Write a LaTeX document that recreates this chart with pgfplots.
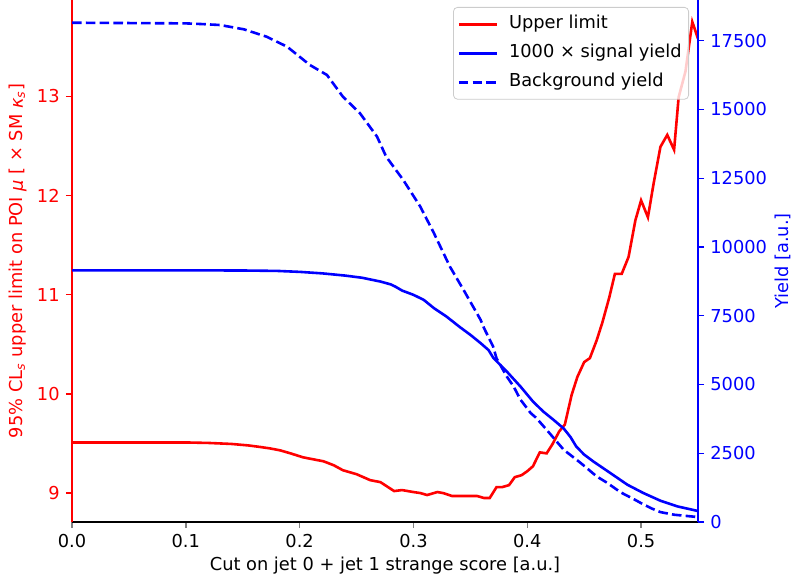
\documentclass[border=0pt]{standalone}
\usepackage{fontspec}
\setmainfont{DejaVu Sans}
\usepackage{pgfplots}
\pgfplotsset{compat=1.18}
\usetikzlibrary{calc}

\definecolor{mplred}{RGB}{255,0,0}
\definecolor{mplblue}{RGB}{0,0,255}

\pgfplotsset{
  common/.style={
    scale only axis, width=313pt, height=261pt,
    xmin=0, xmax=0.55,
    tick align=outside, major tick length=3pt,
    axis line style={line width=0.7pt}, tick style={line width=0.7pt},
    /pgf/number format/assume math mode=true,
    every tick label/.append style={font=\fontsize{8.9}{10.7}\selectfont},
    label style={font=\fontsize{8.9}{10.7}\selectfont},
    xticklabel style={inner sep=0pt, yshift=-3pt},
    yticklabel style={inner sep=0pt},
  },
}

\begin{document}
\fontsize{8.9}{10.7}\selectfont
\begin{tikzpicture}
% upper limit, left axis
\begin{axis}[common, name=ax1,
  ymin=8.708, ymax=13.97,
  axis x line*=bottom, axis y line*=left,
  xtick={0,0.1,0.2,0.3,0.4,0.5},
  xticklabel style={/pgf/number format/.cd, fixed, fixed zerofill, precision=1},
  ytick={9,10,11,12,13},
  y axis line style={mplred},
  y tick style={mplred},
  yticklabel style={mplred, xshift=-3pt},
  xlabel={Cut on jet 0 + jet 1 strange score [a.u.]},
  xlabel style={at={(axis description cs:0.5,-0.0843)}, anchor=center},
  ylabel={95\% CL\textsubscript{\textit{s}} upper limit on POI \textit{μ} [ × SM \textit{κ}\textsubscript{\textit{s}}]},
  ylabel style={mplred, at={(axis description cs:-0.0863,0.5)}, anchor=center},
]
\addplot[mplred, line width=1.3pt, solid] coordinates {
(0.000,9.51) (0.050,9.51) (0.100,9.51) (0.120,9.505) (0.140,9.495) (0.155,9.48)
(0.165,9.465) (0.174,9.45) (0.183,9.43) (0.192,9.40) (0.203,9.36) (0.212,9.34)
(0.221,9.32) (0.230,9.28) (0.238,9.23) (0.250,9.19) (0.262,9.13) (0.271,9.11)
(0.283,9.02) (0.290,9.03) (0.300,9.01) (0.306,9.00) (0.312,8.98) (0.321,9.01)
(0.326,9.00) (0.334,8.97) (0.350,8.97) (0.356,8.97) (0.362,8.95) (0.367,8.95)
(0.373,9.06) (0.378,9.06) (0.384,9.08) (0.389,9.16) (0.395,9.18) (0.400,9.22)
(0.405,9.27) (0.411,9.41) (0.417,9.40) (0.422,9.49) (0.428,9.62) (0.433,9.69)
(0.439,9.99) (0.444,10.17) (0.450,10.32) (0.455,10.36) (0.461,10.54) (0.466,10.72)
(0.472,10.97) (0.477,11.21) (0.483,11.21) (0.489,11.38) (0.495,11.75) (0.500,11.95)
(0.506,11.78) (0.511,12.12) (0.517,12.49) (0.523,12.61) (0.529,12.46) (0.533,12.99)
(0.539,13.25) (0.545,13.75) (0.550,13.58)
};
\end{axis}
% yields, right axis
\begin{axis}[common,
  ymin=0, ymax=18980,
  axis x line=none, axis y line*=right,
  ytick={0,2500,5000,7500,10000,12500,15000,17500},
  scaled y ticks=false,
  yticklabel style={mplblue, xshift=3pt, /pgf/number format/.cd, 1000 sep={}},
  y axis line style={mplblue},
  y tick style={mplblue},
  ylabel={Yield [a.u.]},
  ylabel style={mplblue, at={(axis description cs:1.1358,0.5)}, anchor=center, rotate=0},
  legend style={at={(axis description cs:1,1)}, anchor=north east,
    xshift=-4.5pt, yshift=-3.5pt,
    font=\fontsize{8.9}{10.7}\selectfont,
    draw=black!20, fill=white, fill opacity=0.8, text opacity=1,
    rounded corners=2pt, inner xsep=2pt, inner ysep=2.8pt,
    row sep=3.1pt,
    nodes={inner sep=1.5pt, text height=0.72em, text depth=0.22em}},
  legend cell align=left,
  legend image code/.code={\draw[#1] (0pt,0pt) -- (19pt,0pt); \path (23pt,0pt);},
]
\addlegendimage{mplred, line width=1.3pt, solid}
\addlegendentry{Upper limit}
\addplot[mplblue, line width=1.3pt, solid] coordinates {
(0.000,9150) (0.100,9150) (0.150,9145) (0.180,9130) (0.200,9095) (0.220,9040)
(0.240,8960) (0.255,8880) (0.271,8743) (0.280,8640) (0.284,8561) (0.290,8416)
(0.300,8260) (0.309,8078) (0.318,7776) (0.329,7471) (0.341,7080) (0.350,6806)
(0.359,6504) (0.366,6250) (0.370,5980) (0.373,5850) (0.382,5472) (0.394,4927)
(0.405,4382) (0.414,4019) (0.423,3717) (0.432,3400) (0.438,3089) (0.443,2747)
(0.450,2450) (0.458,2202) (0.473,1780) (0.488,1355) (0.502,1054) (0.517,774)
(0.532,567) (0.550,400)
};
\addlegendentry{1000 × signal yield}
\addplot[mplblue, line width=1.3pt, dash pattern=on 4.8pt off 2.1pt] coordinates {
(0.000,18154) (0.100,18130) (0.113,18107) (0.130,18071) (0.151,17914) (0.171,17645)
(0.189,17282) (0.209,16617) (0.224,16254) (0.238,15465) (0.253,14862) (0.268,14012)
(0.276,13285) (0.291,12438) (0.306,11468) (0.318,10502) (0.332,9288) (0.344,8441)
(0.359,7351) (0.362,7050) (0.370,6381) (0.373,5950) (0.382,5291) (0.388,4927)
(0.394,4450) (0.403,3961) (0.408,3779) (0.417,3354) (0.432,2627) (0.447,2144)
(0.461,1657) (0.470,1430) (0.482,1080) (0.495,800) (0.502,640) (0.510,480)
(0.517,360) (0.529,265) (0.540,220) (0.550,180)
};
\addlegendentry{Background yield}
\end{axis}
\pgfresetboundingbox
\useasboundingbox ($(ax1.south west)+(-36pt,-32pt)$) rectangle ($(ax1.north east)+(48.5pt,0pt)$);
\end{tikzpicture}
\end{document}
